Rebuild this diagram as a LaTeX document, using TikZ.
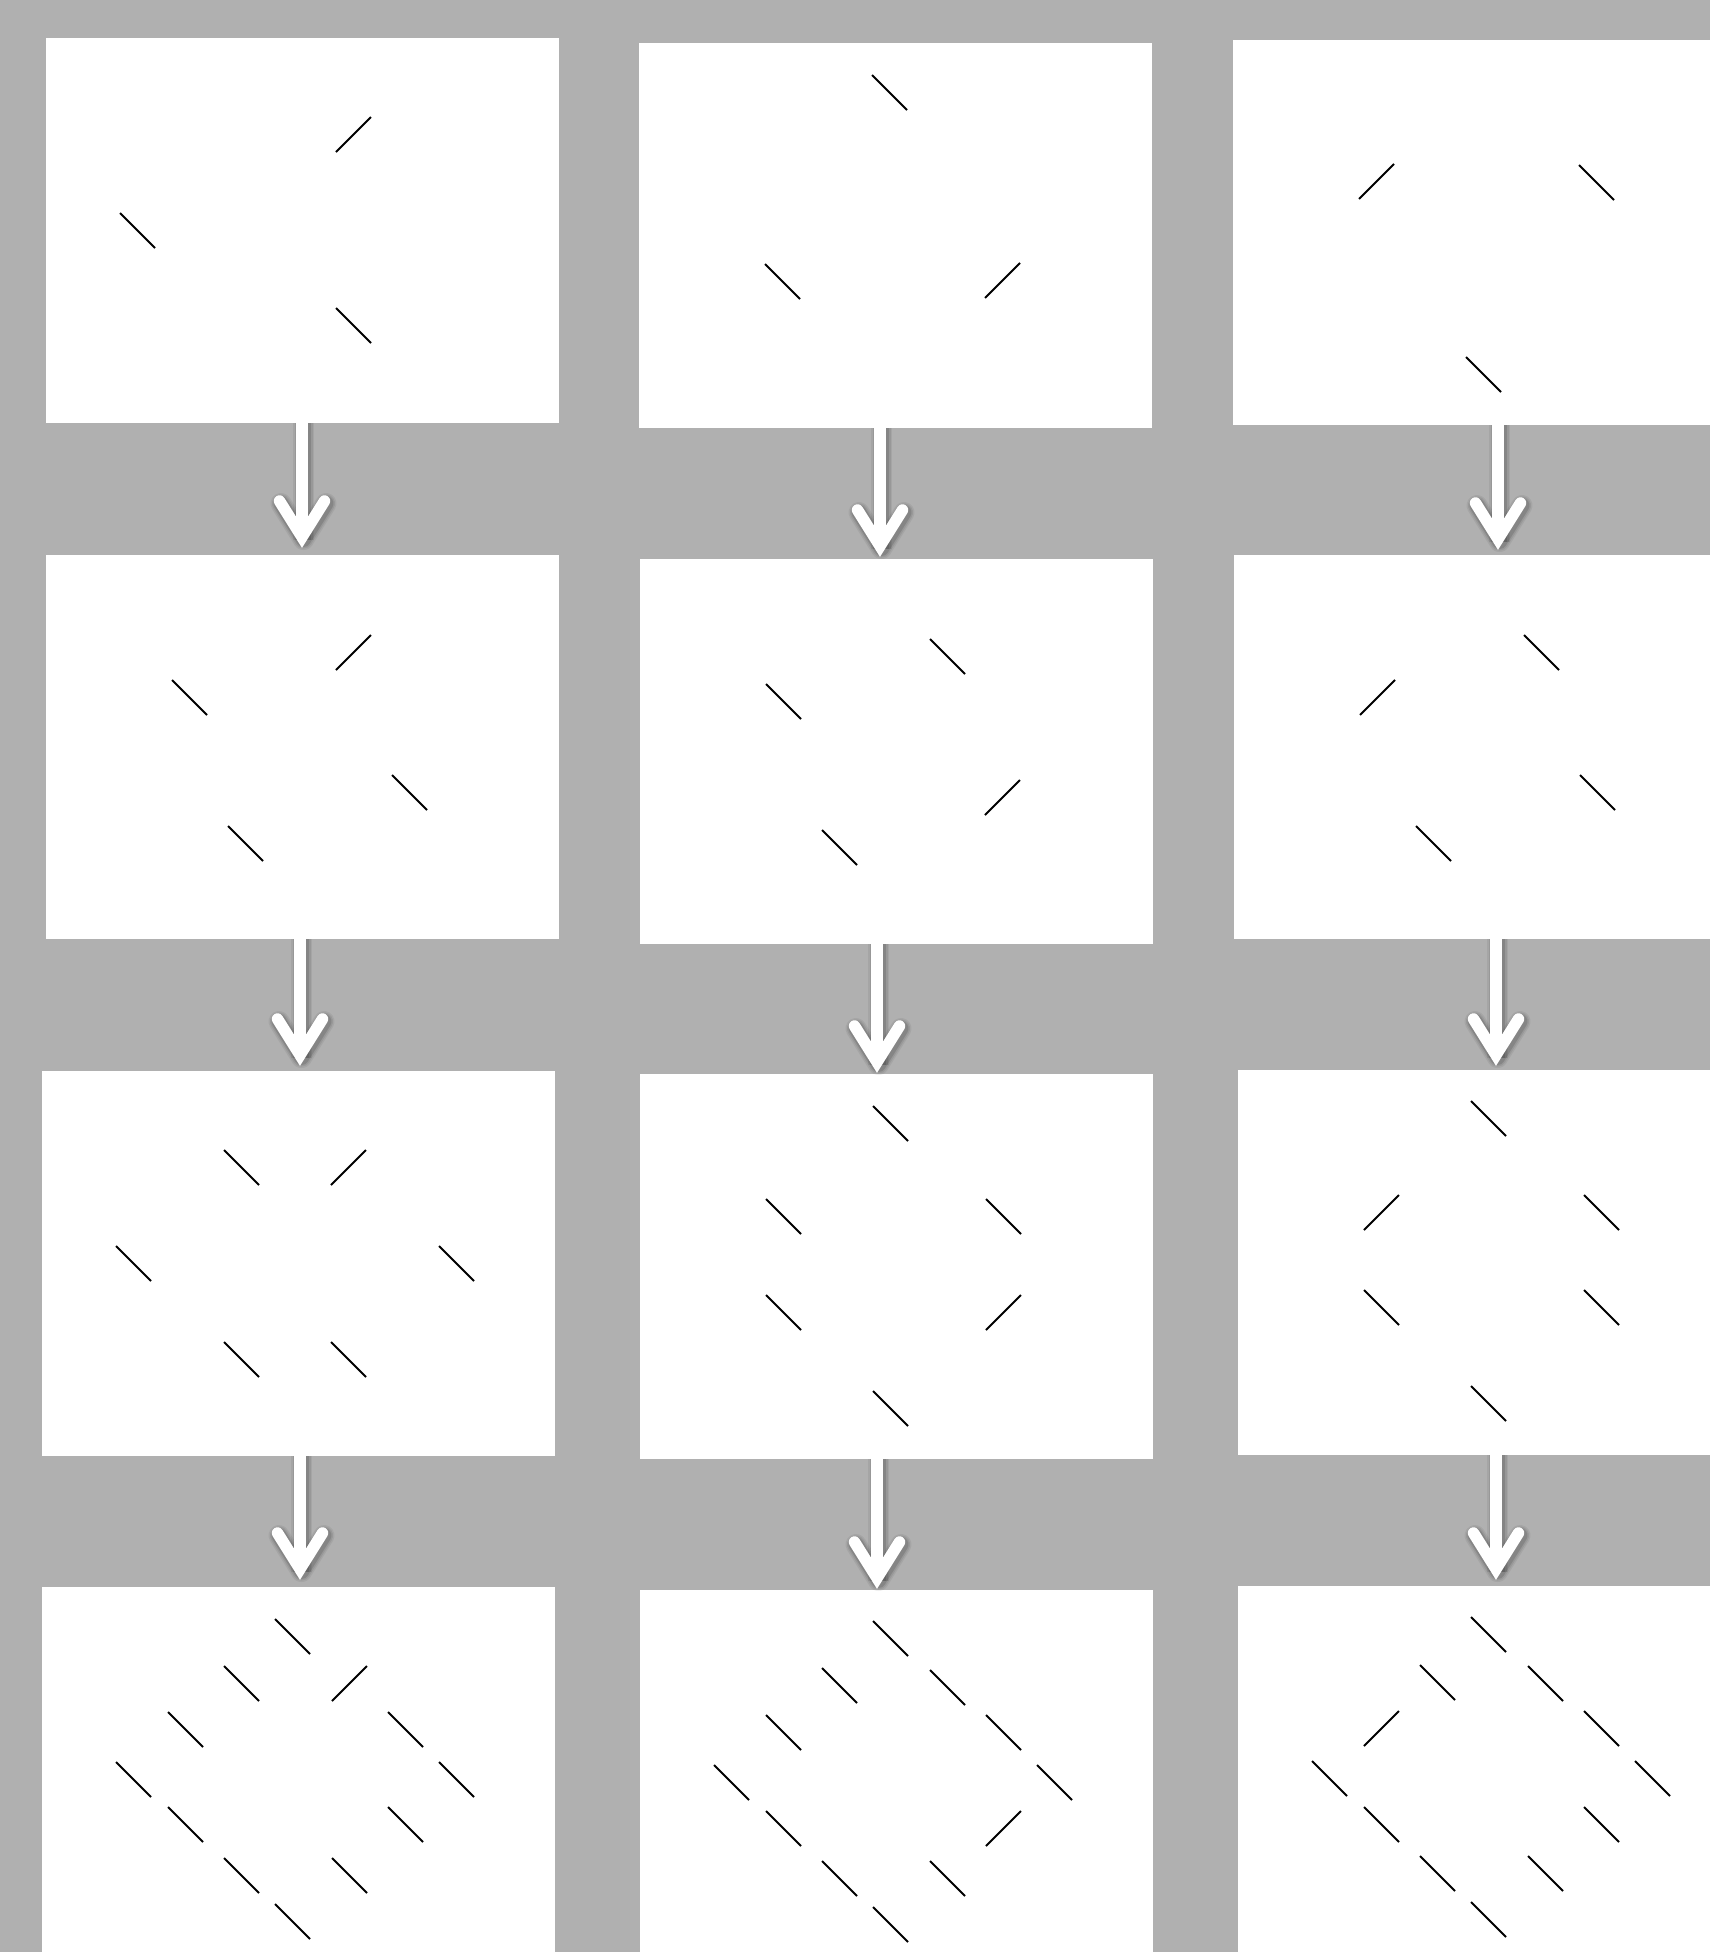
\documentclass[tikz,border=0pt]{standalone}
\usetikzlibrary{calc}
\definecolor{bggray}{RGB}{176,176,176}
\newcommand\segB[2]{\draw[hatch] (#1,#2) -- ++(35,35);}
\newcommand\segF[2]{\draw[hatch] (#1,#2) -- ++(35,-35);}
\newcommand\flowarrow[2]{%
  \foreach \ww/\op in {21pt/0.06,18pt/0.08,15pt/0.12}{%
    \draw[black, opacity=\op, line width=\ww] ($(#1)+(1.5,0)$) -- ($(#2)+(1.5,2.5)$);
    \draw[black, opacity=\op, line width=\ww, line cap=round, line join=round]
      ($(#2)+(-21,-33.5)$) -- ($(#2)+(1.5,2.5)$) -- ($(#2)+(24,-33.5)$);
  }%
  \draw[white, line width=11.5pt] (#1) -- (#2);
  \draw[white, line width=11.5pt, line cap=round, line join=miter]
    ($(#2)+(-22.5,-36)$) -- (#2) -- ($(#2)+(22.5,-36)$);
}
\begin{document}
\begin{tikzpicture}[x=1pt,y=-1pt,
  panel/.style 2 args={fill=white, draw=none, inner sep=0pt, outer sep=0pt,
    anchor=north west, minimum width=#1pt, minimum height=#2pt},
  hatch/.style={black, line width=1.9pt}]
\useasboundingbox (0,0) rectangle (1710,1952);
\fill[bggray] (0,0) rectangle (1710,1952);

% panels
\node[panel={513}{385}] (A1) at (46,38) {};
\node[panel={513}{385}] (A2) at (639,43) {};
\node[panel={477}{385}] (A3) at (1233,40) {};
\node[panel={513}{384}] (B1) at (46,555) {};
\node[panel={513}{385}] (B2) at (640,559) {};
\node[panel={476}{384}] (B3) at (1234,555) {};
\node[panel={513}{385}] (C1) at (42,1071) {};
\node[panel={513}{385}] (C2) at (640,1074) {};
\node[panel={472}{385}] (C3) at (1238,1070) {};
\node[panel={513}{365}] (D1) at (42,1587) {};
\node[panel={513}{362}] (D2) at (640,1590) {};
\node[panel={472}{366}] (D3) at (1238,1586) {};

% arrow end points
\coordinate (s11) at (302,423);  \coordinate (t11) at (302,537);
\coordinate (s12) at (880,428);  \coordinate (t12) at (880,546);
\coordinate (s13) at (1498,425); \coordinate (t13) at (1498,539);
\coordinate (s21) at (300,939);  \coordinate (t21) at (300,1055);
\coordinate (s22) at (877,944);  \coordinate (t22) at (877,1062);
\coordinate (s23) at (1496,939); \coordinate (t23) at (1496,1055);
\coordinate (s31) at (300,1456); \coordinate (t31) at (300,1569);
\coordinate (s32) at (877,1459); \coordinate (t32) at (877,1578);
\coordinate (s33) at (1496,1455);\coordinate (t33) at (1496,1569);

\flowarrow{s11}{t11}
\flowarrow{s12}{t12}
\flowarrow{s13}{t13}
\flowarrow{s21}{t21}
\flowarrow{s22}{t22}
\flowarrow{s23}{t23}
\flowarrow{s31}{t31}
\flowarrow{s32}{t32}
\flowarrow{s33}{t33}

% A1
\segF{336}{152} \segB{120}{213} \segB{336}{308}
% A2
\segB{872}{75} \segB{765}{264} \segF{985}{298}
% A3
\segF{1359}{199} \segB{1579}{165} \segB{1466}{357}
% B1
\segB{172}{680} \segF{336}{670} \segB{392}{775} \segB{228}{826}
% B2
\segB{766}{684} \segB{930}{639} \segF{985}{815} \segB{822}{830}
% B3
\segF{1360}{715} \segB{1524}{635} \segB{1580}{775} \segB{1416}{826}
% C1
\segB{224}{1150} \segF{331}{1185} \segB{116}{1246} \segB{439}{1246}
\segB{224}{1342} \segB{331}{1342}
% C2
\segB{873}{1106} \segB{766}{1199} \segB{986}{1199} \segB{766}{1295}
\segF{986}{1330} \segB{873}{1391}
% C3
\segB{1471}{1101} \segF{1364}{1230} \segB{1584}{1195} \segB{1364}{1290}
\segB{1584}{1290} \segB{1471}{1386}
% D1
\segB{275}{1619} \segB{224}{1666} \segF{332}{1701} \segB{168}{1712}
\segB{388}{1712} \segB{116}{1762} \segB{439}{1762} \segB{168}{1807}
\segB{388}{1807} \segB{224}{1858} \segB{332}{1858} \segB{275}{1904}
% D2
\segB{873}{1621} \segB{822}{1668} \segB{930}{1670} \segB{766}{1715}
\segB{986}{1715} \segB{714}{1765} \segB{1037}{1765} \segB{766}{1811}
\segF{986}{1846} \segB{822}{1861} \segB{930}{1861} \segB{873}{1907}
% D3
\segB{1471}{1617} \segB{1420}{1665} \segB{1528}{1666} \segF{1364}{1746}
\segB{1584}{1711} \segB{1312}{1761} \segB{1635}{1761} \segB{1364}{1807}
\segB{1584}{1807} \segB{1420}{1856} \segB{1528}{1856} \segB{1471}{1902}
\end{tikzpicture}
\end{document}
